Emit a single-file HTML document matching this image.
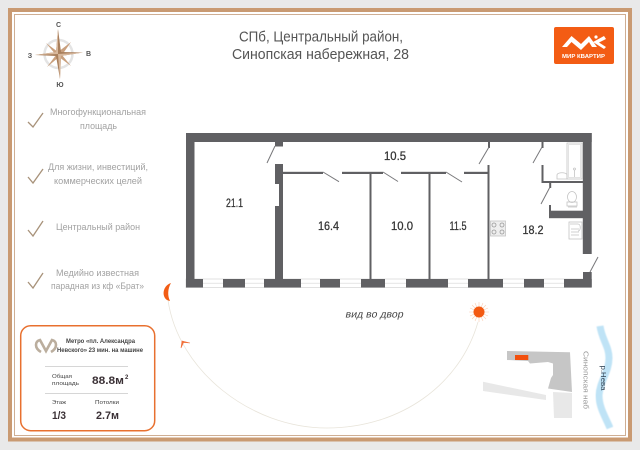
<!DOCTYPE html>
<html><head><meta charset="utf-8"><style>
html,body{margin:0;padding:0;background:#e9e9e9}
svg{display:block}
text{font-family:"Liberation Sans",sans-serif}
</style></head><body>
<svg width="640" height="450" viewBox="0 0 640 450" xmlns="http://www.w3.org/2000/svg">
<defs><filter id="b" x="-5%" y="-5%" width="110%" height="110%"><feGaussianBlur stdDeviation="0.35"/></filter>
<filter id="r" x="-30%" y="-5%" width="160%" height="110%"><feGaussianBlur stdDeviation="0.6"/></filter></defs>
<rect width="640" height="450" fill="#e9e9e9"/>
<rect x="10" y="10" width="620" height="429.500" fill="#fff" stroke="#c99a72" stroke-width="4"/>
<rect x="14.500" y="14.500" width="611" height="421" fill="#fff" stroke="#cfae93" stroke-width="1"/>

<!-- Compass -->
<g>
<circle cx="58.500" cy="54" r="14" fill="none" stroke="#e4e4e4" stroke-width="2.500"/>
<path d="M46 43L58 52 71 42 62 55 71 66 59 57 47 67 56 55Z" fill="#c9a07e"/>
<path d="M58 29L61 52 83 52.500 61 56 60 79 56 56 35 55 56 52Z" fill="#a97f5c"/>
<path d="M58 29L58 54 35 55 56 52ZM60 79L58 54 83 52.500 61 56Z" fill="#d8b89c"/>
<text x="58.500" y="27" font-size="7" font-weight="bold" fill="#555" text-anchor="middle">С</text>
<text x="88.500" y="56" font-size="7" font-weight="bold" fill="#555" text-anchor="middle">В</text>
<text x="30" y="58" font-size="7" font-weight="bold" fill="#555" text-anchor="middle">З</text>
<text x="60" y="87" font-size="7" font-weight="bold" fill="#555" text-anchor="middle">Ю</text>
</g>

<!-- Title -->
<text x="239" y="41.500" font-size="14.500" fill="#555" textLength="164" lengthAdjust="spacingAndGlyphs">СПб, Центральный район,</text>
<text x="232" y="59" font-size="14.500" fill="#555" textLength="177" lengthAdjust="spacingAndGlyphs">Синопская набережная, 28</text>

<!-- Logo -->
<rect x="554" y="27" width="60" height="37" rx="2" fill="#f35c14"/>
<path d="M562 47L571.500 36 581 44 589 36 597 47 592 47 589 42 581 50 571.500 42 567 47Z" fill="#fff"/>
<path d="M593 42L604 36 606 39 599 42.500 606 47 604 49Z" fill="#fff"/>
<circle cx="596" cy="37" r="1.600" fill="#fff"/>
<text x="562" y="58" font-size="5" font-weight="bold" fill="#fff" textLength="43" lengthAdjust="spacingAndGlyphs">МИР КВАРТИР</text>

<!-- Checks and bullets -->
<g fill="none" stroke="#a8927a" stroke-width="1.300">
<path d="M28 122L33 127 43 113"/>
<path d="M28 177L33 183 43 169"/>
<path d="M28 230L33 236 43 221"/>
<path d="M28 282L33 288 43 273"/>
</g>
<g font-size="9" fill="#a2a2a2">
<text x="50" y="115" textLength="96" lengthAdjust="spacingAndGlyphs">Многофункциональная</text>
<text x="80" y="129" textLength="37" lengthAdjust="spacingAndGlyphs">площадь</text>
<text x="48" y="170" textLength="100" lengthAdjust="spacingAndGlyphs">Для жизни, инвестиций,</text>
<text x="54" y="184" textLength="88" lengthAdjust="spacingAndGlyphs">коммерческих целей</text>
<text x="56" y="230" textLength="84" lengthAdjust="spacingAndGlyphs">Центральный район</text>
<text x="56" y="276" textLength="83" lengthAdjust="spacingAndGlyphs">Медийно известная</text>
<text x="51" y="289" textLength="93" lengthAdjust="spacingAndGlyphs">парадная из кф «Брат»</text>
</g>

<!-- Info card -->
<rect x="20.700" y="325.700" width="134" height="105" rx="10" fill="#fff" stroke="#e8702f" stroke-width="1.500"/>
<path d="M41 352C34 348 35 341 40 340L46 351 52 340C57 341 58 348 51 352" fill="none" stroke="#bbae9e" stroke-width="2.600"/>
<g fill="#444">
<text x="66" y="343" font-size="6" font-weight="bold" textLength="69" lengthAdjust="spacingAndGlyphs">Метро «пл. Александра</text>
<text x="57" y="352" font-size="6" font-weight="bold" textLength="86" lengthAdjust="spacingAndGlyphs">Невского» 23 мин. на машине</text>
<text x="52" y="378" font-size="5.500" textLength="20" lengthAdjust="spacingAndGlyphs">Общая</text>
<text x="52" y="385" font-size="5.500" textLength="27" lengthAdjust="spacingAndGlyphs">площадь</text>
<text x="52" y="404" font-size="5.500" textLength="14" lengthAdjust="spacingAndGlyphs">Этаж</text>
<text x="95" y="404" font-size="5.500" textLength="24" lengthAdjust="spacingAndGlyphs">Потолки</text>
</g>
<rect x="45" y="366" width="83" height="0.800" fill="#ccc"/>
<rect x="45" y="393" width="83" height="0.800" fill="#ccc"/>
<g fill="#3a3035" font-weight="bold">
<text x="92" y="384" font-size="11" textLength="32" lengthAdjust="spacingAndGlyphs">88.8м</text>
<text x="125" y="379" font-size="6">2</text>
<text x="52" y="419" font-size="11" textLength="14" lengthAdjust="spacingAndGlyphs">1/3</text>
<text x="96" y="419" font-size="11" textLength="23" lengthAdjust="spacingAndGlyphs">2.7м</text>
</g>

<!-- Windows -->
<g fill="#fff" stroke="#d4d4d4" stroke-width="0.700">
<rect x="186" y="279" width="405" height="8.500"/>
<path d="M186 283.200H591" fill="none"/>
</g>

<!-- Walls -->
<g fill="#616163" filter="url(#b)">
<rect x="186" y="133" width="405.700" height="9"/>
<rect x="186" y="133" width="8.500" height="154.500"/>
<rect x="582.800" y="133" width="8.900" height="121"/>
<rect x="583" y="272" width="8.700" height="15.500"/>
<rect x="186" y="279" width="17" height="8.500"/>
<rect x="223" y="279" width="22" height="8.500"/>
<rect x="264" y="279" width="37" height="8.500"/>
<rect x="320" y="279" width="20" height="8.500"/>
<rect x="361" y="279" width="24" height="8.500"/>
<rect x="406" y="279" width="42" height="8.500"/>
<rect x="468" y="279" width="35" height="8.500"/>
<rect x="524" y="279" width="20" height="8.500"/>
<rect x="564" y="279" width="27.700" height="8.500"/>
<rect x="275" y="142" width="8" height="4.500"/>
<rect x="275" y="164" width="8" height="20"/>
<rect x="279" y="184" width="4" height="22"/>
<rect x="275" y="206" width="8" height="73"/>
<rect x="283" y="171.800" width="40" height="2.200"/>
<rect x="342" y="171.800" width="41" height="2.200"/>
<rect x="401" y="171.800" width="45" height="2.200"/>
<rect x="464" y="171.800" width="24" height="2.200"/>
<rect x="369.500" y="172" width="2" height="107"/>
<rect x="428.500" y="172" width="2" height="107"/>
<rect x="487.500" y="165" width="2" height="114"/>
<rect x="488" y="142" width="2" height="6"/>
<rect x="541.500" y="142" width="2" height="6"/>
<rect x="541.500" y="165" width="2" height="18"/>
<rect x="541.500" y="181" width="42" height="2"/>
<rect x="549.200" y="183" width="2" height="5"/>
<rect x="549" y="205" width="2" height="6"/>
<rect x="549" y="210.700" width="34" height="7.500"/>
</g>

<!-- Doors -->
<g stroke="#77777a" stroke-width="1" fill="none">
<path d="M275 146L267 163"/>
<path d="M323 172L339 181.700"/>
<path d="M383 172L398 181.500"/>
<path d="M446 172L462 182"/>
<path d="M489 147L479 164"/>
<path d="M542 147L533 163"/>
<path d="M550 187L541 204"/>
<path d="M598 257L590 272"/>
</g>

<!-- Fixtures -->
<g fill="none" stroke="#c4c4c4" stroke-width="0.800">
<rect x="567" y="143" width="15" height="36"/>
<rect x="568.500" y="144.500" width="12" height="33" stroke="#dcdcdc"/>
<path d="M557 179V175C557 172 567 172 567 175V179Z"/>
<circle cx="574.500" cy="169" r="1"/>
<path d="M574.500 170V177"/>
<ellipse cx="572" cy="197" rx="4.500" ry="5.500"/>
<rect x="567" y="202" width="10" height="4"/>
<path d="M568 207H577"/>
<rect x="490.500" y="221" width="15" height="15" fill="#eee"/>
<rect x="569" y="222" width="13" height="17"/>
<path d="M571 232H579M571 235H579M571 229H579"/>
<path d="M570 224H578C581 224 581 231 578 231"/>
</g>
<g fill="none" stroke="#999" stroke-width="0.800">
<circle cx="494" cy="225" r="2"/><circle cx="502" cy="225" r="2"/>
<circle cx="494" cy="232" r="2"/><circle cx="502" cy="232" r="2"/>
</g>

<!-- Room labels -->
<g font-size="11.500" fill="#333" stroke="#333" stroke-width="0.250" text-anchor="middle">
<text x="234.500" y="207" textLength="17" lengthAdjust="spacingAndGlyphs">21.1</text>
<text x="328.500" y="230" textLength="21" lengthAdjust="spacingAndGlyphs">16.4</text>
<text x="402" y="230" textLength="22" lengthAdjust="spacingAndGlyphs">10.0</text>
<text x="458" y="230" textLength="17" lengthAdjust="spacingAndGlyphs">11.5</text>
<text x="533" y="234" textLength="21" lengthAdjust="spacingAndGlyphs">18.2</text>
<text x="395" y="160" textLength="22" lengthAdjust="spacingAndGlyphs">10.5</text>
</g>

<text transform="translate(345 317.500) skewX(-12)" font-size="10" fill="#444" textLength="58" lengthAdjust="spacingAndGlyphs">вид во двор</text>

<!-- Sun path -->
<path d="M168 300C178 370 250 428 327 428C400 428 460 385 478 322" fill="none" stroke="#e8e4da" stroke-width="0.800"/>
<path d="M181 348L182 341 190 343 183.500 342.500Z" fill="#f0703a" stroke="#f0703a" stroke-width="0.600"/>
<path d="M171 283C165 285 162.500 291 164 296 165 299 167 300.500 170 301 167.500 296 167.500 289 171 283Z" fill="#f25c14"/>
<g stroke="#f9cdb2" stroke-width="0.600">
<path d="M479 302V322M469 312H489M472 305L486 319M486 305L472 319M475 303L483 321M483 303L475 321M470 308L488 316M488 308L470 316"/>
</g>
<circle cx="479" cy="312" r="5.500" fill="#f35a12"/>

<!-- Site plan -->
<path d="M483 381.700L546 395 546 400 483 391Z" fill="#e8e8e8"/>
<path d="M553 392L572 393 572 418 554 418Z" fill="#e8e8e8"/>
<path d="M507 351L570 352.300 572 392 548 388.500 551 378 553 375 553 363.500 548 362 530 363.500 528 361 507 360Z" fill="#c6c6c6"/>
<rect x="515" y="355" width="13.300" height="5" fill="#f2500e"/>
<path d="M600 326C602 340 609 346 609 358C609 372 600 381 599 395C599 408 606 418 610 428" fill="none" stroke="#bfe3f6" stroke-width="7" filter="url(#r)"/>
<text transform="translate(601 365.500) rotate(90)" font-size="7" fill="#345" textLength="25" lengthAdjust="spacingAndGlyphs">р.Нева</text>
<text transform="translate(583.500 351) rotate(90)" font-size="7.500" fill="#999" textLength="58" lengthAdjust="spacingAndGlyphs">Синопская наб</text>
</svg>
</body></html>
